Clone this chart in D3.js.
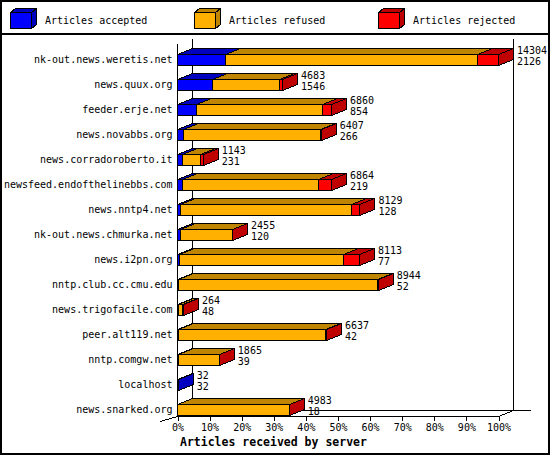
<!DOCTYPE html>
<html>
<head>
<meta charset="utf-8">
<script src="https://cdn.jsdelivr.net/npm/d3@7"></script>
<style>
  html, body { margin: 0; padding: 0; background: #fff; }
  svg { display: block; }
  text { font-family: "DejaVu Sans Mono", monospace; font-size: 10px; fill: #000; }
</style>
</head>
<body>
<svg id="chart" width="550" height="455"></svg>
<script>
// ---- data ----
const hosts = [
  "nk-out.news.weretis.net", "news.quux.org", "feeder.erje.net", "news.novabbs.org",
  "news.corradoroberto.it", "newsfeed.endofthelinebbs.com", "news.nntp4.net",
  "nk-out.news.chmurka.net", "news.i2pn.org", "nntp.club.cc.cmu.edu",
  "news.trigofacile.com", "peer.alt119.net", "nntp.comgw.net", "localhost", "news.snarked.org"
];
const totals   = [14304, 4683, 6860, 6407, 1143, 6864, 8129, 2455, 8113, 8944, 264, 6637, 1865, 32, 4983];
const accepted = [2126, 1546, 854, 266, 231, 219, 128, 120, 77, 52, 48, 42, 39, 32, 18];
const rejected = [930, 150, 400, 30, 120, 590, 360, 10, 710, 50, 20, 60, 10, 0, 10];
const seriesNames = ["Articles accepted", "Articles refused", "Articles rejected"];
const tickValues = [0, 10, 20, 30, 40, 50, 60, 70, 80, 90, 100];
const axisTitle = "Articles received by server";

// ---- styling ----
const frontCol = ["#0000ff", "#ffb000", "#ff0000"];
const darkCol  = ["#0000bf", "#bf8400", "#bf0000"];
const DX = 15, DY = 6, BH = 11;

const svg = d3.select("#chart");
svg.append("rect").attr("x", 1).attr("y", 1).attr("width", 548).attr("height", 453)
  .attr("fill", "#fff").attr("stroke", "#000").attr("stroke-width", 2);
svg.append("line").attr("x1", 0).attr("x2", 550).attr("y1", 34).attr("y2", 34)
  .attr("stroke", "#000").attr("stroke-width", 2);

const g = svg.append("g").attr("shape-rendering", "crispEdges");

function box(sel, a, b, t, h, dx, dy, i) {
  const pts = (arr) => arr.map(p => p.join(",")).join(" ");
  sel.append("rect").attr("x", a).attr("y", t).attr("width", Math.max(0, b - a)).attr("height", h)
    .attr("fill", frontCol[i]).attr("stroke", "#000");
  sel.append("polygon").attr("points", pts([[a, t], [b, t], [b + dx, t - dy], [a + dx, t - dy]]))
    .attr("fill", darkCol[i]).attr("stroke", "#000");
  sel.append("polygon").attr("points", pts([[b, t], [b + dx, t - dy], [b + dx, t + h - dy], [b, t + h]]))
    .attr("fill", darkCol[i]).attr("stroke", "#000");
}

// legend
const legendX = d3.scalePoint().domain(seriesNames).range([10.5, 378.5]);
seriesNames.forEach((s, i) => {
  const lx = legendX(s);
  box(g, lx, lx + 21, 12.5, 16, 5, 4, i);
  svg.append("text").attr("x", lx + 34.5).attr("y", 24).text(s);
});

// scales
const x = d3.scaleLinear().domain([0, d3.max(totals)]).range([177, 498]);
const pct = d3.scaleLinear().domain([0, 100]).range([177, 498]);
const y = d3.scalePoint().domain(hosts).range([54, 404]);

// back frame
const ln = (x1, y1, x2, y2) => g.append("line").attr("x1", x1).attr("y1", y1)
  .attr("x2", x2).attr("y2", y2).attr("stroke", "#000");
ln(192.5, 39, 192.5, 410.5);
ln(513.5, 39, 513.5, 410.5);
ln(192.5, 410.5, 531, 410.5);
ln(177.5, 44, 177.5, 416.5);
ln(177.5, 416.5, 498.5, 416.5);
ln(498.5, 416.5, 513.5, 410.5);
ln(177.5, 416.5, 160, 421.5);

// bars
hosts.forEach((h, r) => {
  const t = y(h) + 0.5;
  const vals = [accepted[r], totals[r] - accepted[r] - rejected[r], rejected[r]];
  let cum = 0;
  const bg = g.append("g");
  vals.forEach((v, i) => {
    if (v <= 0) return;
    const a = Math.round(x(cum)) + 0.5;
    const b = Math.round(x(cum + v)) + 0.5;
    cum += v;
    box(bg, a, b, t, BH, DX, DY, i);
  });
  svg.append("text").attr("x", 172.5).attr("y", y(h) + 9).attr("text-anchor", "end").text(h);
  const tx = x(totals[r]) + DX + 4;
  svg.append("text").attr("x", tx).attr("y", y(h)).text(totals[r]);
  svg.append("text").attr("x", tx).attr("y", y(h) + 10.5).text(accepted[r]);
});

// axis
const axis = d3.axisBottom(pct).tickValues(tickValues).tickFormat(d => d + "%").tickSize(4).tickPadding(3);
const ag = svg.append("g").attr("transform", "translate(0.5,416.5)").call(axis);
ag.select(".domain").remove();
ag.selectAll("line").attr("stroke", "#000").attr("shape-rendering", "crispEdges");
ag.selectAll("text").attr("font-family", "DejaVu Sans Mono").attr("font-size", 10).attr("fill", "#000");

svg.append("text").attr("x", 180).attr("y", 446)
  .style("font-weight", "bold").style("font-size", "11.5px").text(axisTitle);
</script>
</body>
</html>
